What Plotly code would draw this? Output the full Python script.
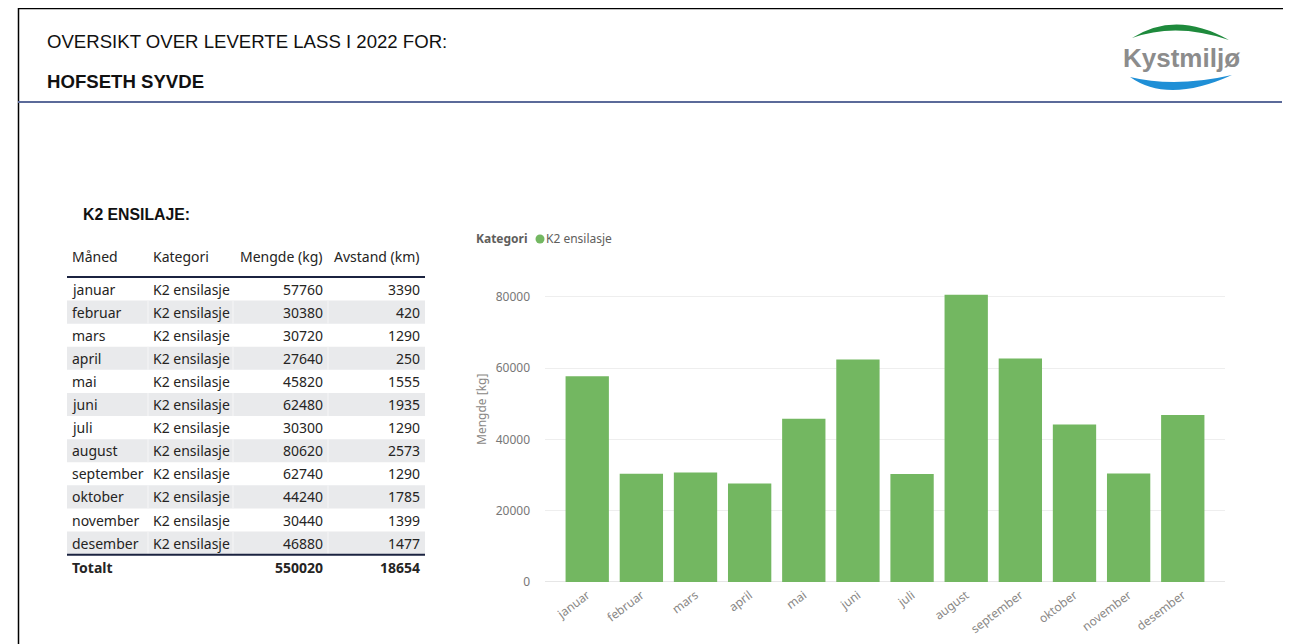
import plotly.graph_objects as go

OX, OY = 8, 8          # browser body margin
W, H = 1291 - OX, 644 - OY

months = ["januar", "februar", "mars", "april", "mai", "juni", "juli",
          "august", "september", "oktober", "november", "desember"]
category = "K2 ensilasje"
mengde_kg = [57760, 30380, 30720, 27640, 45820, 62480, 30300,
             80620, 62740, 44240, 30440, 46880]
avstand_km = [3390, 420, 1290, 250, 1555, 1935, 1290,
              2573, 1290, 1785, 1399, 1477]
y_ticks = [0, 20000, 40000, 60000, 80000]

title_1 = "OVERSIKT OVER LEVERTE LASS I 2022 FOR:"
title_2 = "HOFSETH SYVDE"
section_title = "K2 ENSILAJE:"
table_headers = ["Måned", "Kategori", "Mengde (kg)", "Avstand (km)"]

GREEN = "#73B761"
TXT = "#252423"
TABLE_FONT = "Noto Sans"


def px(x):
    return (x - OX) / W


def py(y):
    return 1 - (y - OY) / H


fig = go.Figure()
fig.add_trace(go.Bar(
    x=months, y=mengde_kg, marker=dict(color=GREEN, line=dict(width=0)),
    showlegend=False, name=category,
))

shapes = []
ann = []

# page frame
shapes.append(dict(type="line", xref="paper", yref="paper", x0=px(18), x1=1, y0=py(8.5), y1=py(8.5),
                   line=dict(color="#000000", width=1.5)))
shapes.append(dict(type="line", xref="paper", yref="paper", x0=px(18.5), x1=px(18.5), y0=py(8), y1=0,
                   line=dict(color="#000000", width=1.5)))
# header rule
shapes.append(dict(type="line", xref="paper", yref="paper", x0=px(18), x1=px(1282), y0=py(102), y1=py(102),
                   line=dict(color="#5B6A99", width=2)))

ann.append(dict(text=title_1, x=px(45), y=py(42), xref="paper", yref="paper", showarrow=False,
                xanchor="left", yanchor="middle", font=dict(family="Liberation Sans", size=18.6, color="#111")))
ann.append(dict(text="<b>" + title_2 + "</b>", x=px(45), y=py(82), xref="paper", yref="paper", showarrow=False,
                xanchor="left", yanchor="middle", font=dict(family="Liberation Sans", size=18.6, color="#111")))

# logo
shapes.append(dict(type="path", xref="paper", yref="paper",
                   path=f"M {px(1132)},{py(38)} Q {px(1176)},{py(10)} {px(1229)},{py(40)} "
                        f"Q {px(1176)},{py(22)} {px(1132)},{py(38)} Z",
                   fillcolor="#1E8A3C", line=dict(width=0)))
shapes.append(dict(type="path", xref="paper", yref="paper",
                   path=f"M {px(1130)},{py(77)} Q {px(1168)},{py(104)} {px(1232)},{py(75)} "
                        f"Q {px(1175)},{py(88)} {px(1130)},{py(77)} Z",
                   fillcolor="#1F8FD6", line=dict(width=0)))
ann.append(dict(text="<b>Kystmiljø</b>", x=px(1181), y=py(58), xref="paper", yref="paper", showarrow=False,
                xanchor="center", yanchor="middle", font=dict(family="Liberation Sans", size=26, color="#8C8C8C")))

# section title
ann.append(dict(text="<b>" + section_title + "</b>", x=px(81), y=py(214), xref="paper", yref="paper",
                showarrow=False, xanchor="left", yanchor="middle",
                font=dict(family="Liberation Sans", size=15.8, color="#111")))

# table
col_x = [70, 151, 325, 422]
col_anchor = ["left", "left", "right", "right"]
col_sep = [148, 233, 328]
tbl_x0, tbl_x1 = 67, 425
header_y = 256
row0 = 289
pitch = 23.1
for j, h in enumerate(table_headers):
    ann.append(dict(text=h, x=px(col_x[j]), y=py(header_y), xref="paper", yref="paper", showarrow=False,
                    xanchor=col_anchor[j], yanchor="middle",
                    font=dict(family=TABLE_FONT, size=14, color=TXT)))
for i, m in enumerate(months):
    yc = row0 + i * pitch
    if i % 2 == 1:
        shapes.append(dict(type="rect", xref="paper", yref="paper", x0=px(tbl_x0), x1=px(tbl_x1),
                           y0=py(yc - pitch / 2), y1=py(yc + pitch / 2),
                           fillcolor="#E9EAEC", line=dict(width=0), layer="below"))
        for sx in col_sep:
            shapes.append(dict(type="line", xref="paper", yref="paper", x0=px(sx), x1=px(sx),
                               y0=py(yc - pitch / 2), y1=py(yc + pitch / 2),
                               line=dict(color="#F6F6F7", width=1), layer="below"))
    vals = [m, category, str(mengde_kg[i]), str(avstand_km[i])]
    for j, v in enumerate(vals):
        ann.append(dict(text=v, x=px(col_x[j]), y=py(yc), xref="paper", yref="paper", showarrow=False,
                        xanchor=col_anchor[j], yanchor="middle",
                        font=dict(family=TABLE_FONT, size=14, color=TXT)))
shapes.append(dict(type="line", xref="paper", yref="paper", x0=px(tbl_x0), x1=px(tbl_x1),
                   y0=py(277), y1=py(277), line=dict(color="#1B2340", width=2)))
last_y = row0 + (len(months) - 1) * pitch + pitch / 2
shapes.append(dict(type="line", xref="paper", yref="paper", x0=px(tbl_x0), x1=px(tbl_x1),
                   y0=py(last_y), y1=py(last_y), line=dict(color="#1B2340", width=2)))
tot_y = last_y + 13
tot_vals = ["Totalt", "", str(sum(mengde_kg)), str(sum(avstand_km))]
for j, v in enumerate(tot_vals):
    if v:
        ann.append(dict(text="<b>" + v + "</b>", x=px(col_x[j]), y=py(tot_y), xref="paper", yref="paper",
                        showarrow=False, xanchor=col_anchor[j], yanchor="middle",
                        font=dict(family=TABLE_FONT, size=14, color=TXT)))

# chart legend
ann.append(dict(text="<b>Kategori</b>", x=px(474), y=py(239), xref="paper", yref="paper", showarrow=False,
                xanchor="left", yanchor="middle", font=dict(family=TABLE_FONT, size=12, color="#605E5C")))
shapes.append(dict(type="circle", xref="paper", yref="paper", x0=px(535.5), x1=px(544.5),
                   y0=py(234.5), y1=py(243.5), fillcolor=GREEN, line=dict(width=0)))
ann.append(dict(text=category, x=px(544), y=py(239), xref="paper", yref="paper", showarrow=False,
                xanchor="left", yanchor="middle", font=dict(family=TABLE_FONT, size=12, color="#605E5C")))

# axis title
ann.append(dict(text="Mengde [kg]", x=px(481), y=py(410), xref="paper", yref="paper", showarrow=False,
                textangle=-90, xanchor="center", yanchor="middle",
                font=dict(family=TABLE_FONT, size=12, color="#8A8886")))

y_top = 85000
x_pad = 0.28
fig.update_layout(
    width=W, height=H, margin=dict(l=0, r=0, t=0, b=0),
    paper_bgcolor="white", plot_bgcolor="white",
    shapes=shapes, annotations=ann,
    bargap=0.2,
    xaxis=dict(domain=[px(545), px(1225)], range=[-0.5 - x_pad, len(months) - 0.5 + x_pad],
               tickangle=-37, showgrid=False, showline=False,
               ticks="", automargin=False, ticklabelstandoff=3,
               tickfont=dict(family=TABLE_FONT, size=12, color="#8A8886")),
    yaxis=dict(domain=[py(582), py(582 - y_top / 1000 * 3.5625)], range=[0, y_top],
               tickvals=y_ticks, ticktext=[str(v) for v in y_ticks],
               showgrid=True, gridcolor="#EEEEEE", gridwidth=1, zeroline=True,
               zerolinecolor="#E6E6E6", zerolinewidth=1, showline=False, ticks="",
               ticklabelstandoff=14, automargin=False,
               tickfont=dict(family=TABLE_FONT, size=12, color="#777777")),
)

fig.write_html("out.html")
